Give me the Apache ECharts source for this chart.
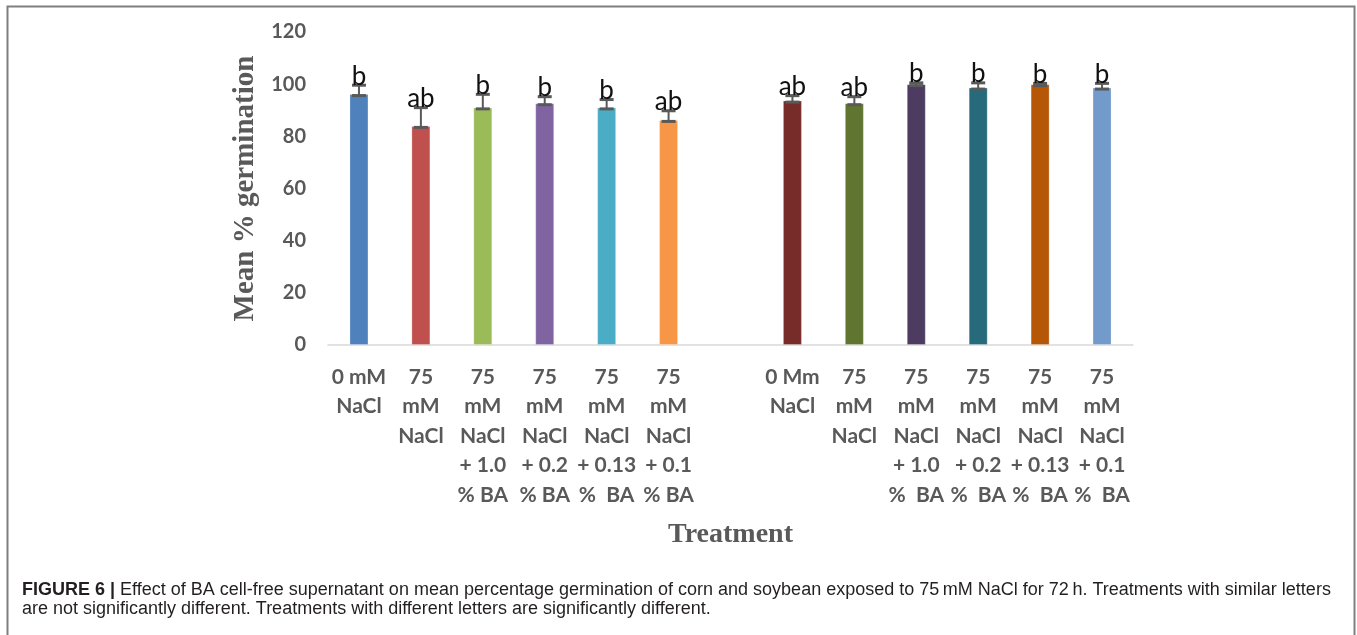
<!DOCTYPE html>
<html>
<head>
<meta charset="utf-8">
<script src="https://cdn.jsdelivr.net/npm/echarts@6/dist/echarts.min.js"></script>
<style>
html,body{margin:0;padding:0;background:#fff;}
#chart{width:1357px;height:635px;}
</style>
</head>
<body>
<div id="chart"></div>
<script>
// ---- data ----
const categories = [
  "0 mM\nNaCl",
  "75\nmM\nNaCl",
  "75\nmM\nNaCl\n+ 1.0\n% BA",
  "75\nmM\nNaCl\n+ 0.2\n% BA",
  "75\nmM\nNaCl\n+ 0.13\n%  BA",
  "75\nmM\nNaCl\n+ 0.1\n% BA",
  "",
  "0 Mm\nNaCl",
  "75\nmM\nNaCl",
  "75\nmM\nNaCl\n+ 1.0\n%  BA",
  "75\nmM\nNaCl\n+ 0.2\n%  BA",
  "75\nmM\nNaCl\n+ 0.13\n%  BA",
  "75\nmM\nNaCl\n+ 0.1\n%  BA"
];
const meanGermination = [96.2, 84, 91.1, 92.7, 91.1, 86.3, null, 93.7, 92.7, 100, 98.7, 100, 98.7];
const errorPlus = [3.4, 7, 5, 2.5, 3, 3.5, null, 1.9, 2.5, 0.5, 1.8, 0.3, 1.6];
const letters = ["b", "ab", "b", "b", "b", "ab", "", "ab", "ab", "b", "b", "b", "b"];
const yTicks = [0, 20, 40, 60, 80, 100, 120];
const barColors = ["#4F81BD", "#C0504D", "#9BBB59", "#8064A2", "#4BACC6", "#F79646", "#ffffff",
                   "#772C2A", "#5F7530", "#4D3B62", "#276A7C", "#B65708", "#729ACA"];
const captionLine1 = "Effect of BA cell-free supernatant on mean percentage germination of corn and soybean exposed to 75\u2009mM NaCl for 72\u2009h. Treatments with similar letters";
const captionLine2 = "are not significantly different. Treatments with different letters are significantly different.";

// ---- chart ----
const chart = echarts.init(document.getElementById('chart'), null, {renderer: 'canvas'});
const gray = '#595959';

const barData = meanGermination.map((v, i) => v == null ? '-' : {value: v, itemStyle: {color: barColors[i]}});
const errData = meanGermination.map((v, i) => v == null ? null : [i, v, errorPlus[i], letters[i]]).filter(d => d);

const option = {
  animation: false,
  backgroundColor: '#fff',
  grid: {left: 328, right: 224, top: 32, bottom: 290, containLabel: false},
  xAxis: {
    type: 'category',
    data: categories,
    axisLine: {show: true, lineStyle: {color: '#D9D9D9', width: 1.5}},
    axisTick: {show: false},
    axisLabel: {
      interval: 0, color: gray, fontFamily: 'Lato', fontWeight: 'bold', fontSize: 21,
      lineHeight: 29.5, margin: 17, align: 'center'
    },
    name: 'Treatment',
    nameLocation: 'middle',
    nameGap: 176,
    nameTextStyle: {fontFamily: 'Liberation Serif', fontWeight: 'bold', fontSize: 28, color: gray}
  },
  yAxis: {
    type: 'value',
    min: yTicks[0], max: yTicks[yTicks.length - 1], interval: 20,
    splitLine: {show: false},
    axisLine: {show: false},
    axisTick: {show: false},
    axisLabel: {color: gray, fontFamily: 'Lato', fontWeight: 'bold', fontSize: 20, margin: 22},
    name: 'Mean % germination',
    nameLocation: 'middle',
    nameGap: 68,
    nameTextStyle: {fontFamily: 'Liberation Serif', fontWeight: 'bold', fontSize: 29, color: gray}
  },
  series: [
    {
      type: 'bar',
      data: barData,
      barWidth: 19,
      itemStyle: {borderColor: 'rgba(255,255,255,0.25)', borderWidth: 1}
    },
    {
      type: 'custom',
      data: errData,
      z: 5,
      renderItem: function (params, api) {
        const idx = api.value(0), v = api.value(1), e = api.value(2);
        const letter = letters[idx];
        const base = api.coord([idx, v]);
        const top = api.coord([idx, v + e]);
        const hw = 7;
        return {
          type: 'group',
          children: [
            {type: 'line', shape: {x1: base[0], y1: base[1] + 1.5, x2: top[0], y2: top[1]}, style: {stroke: gray, lineWidth: 2}},
            {type: 'line', shape: {x1: top[0] - hw, y1: top[1], x2: top[0] + hw, y2: top[1]}, style: {stroke: gray, lineWidth: 3}},
            {type: 'line', shape: {x1: base[0] - hw, y1: base[1] + 1.5, x2: base[0] + hw, y2: base[1] + 1.5}, style: {stroke: gray, lineWidth: 3}},
            {type: 'text', style: {
              text: letter, x: top[0], y: top[1] + 4,
              textAlign: 'center', textVerticalAlign: 'bottom',
              font: '26px Lato', fill: '#111'
            }}
          ]
        };
      }
    }
  ],
  graphic: [
    {type: 'rect', shape: {x: 7.5, y: 6.5, width: 1347, height: 700},
     style: {fill: 'none', stroke: '#7f7f7f', lineWidth: 2}, silent: true},
    {type: 'text', left: 22, top: 581, style: {
      text: '{b|FIGURE 6 |} ' + captionLine1,
      font: '18px "Liberation Sans"', fill: '#231f20',
      rich: {b: {fontWeight: 'bold', fontSize: 18, fontFamily: 'Liberation Sans', color: '#231f20'}}
    }},
    {type: 'text', left: 22, top: 600, style: {
      text: captionLine2, font: '18px "Liberation Sans"', fill: '#231f20'
    }}
  ]
};
chart.setOption(option);
</script>
</body>
</html>
